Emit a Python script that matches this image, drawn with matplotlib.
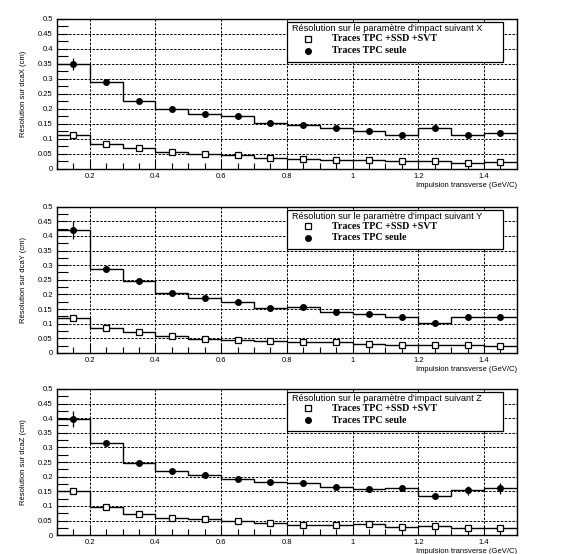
import matplotlib
matplotlib.use("Agg")
import matplotlib.pyplot as plt
from matplotlib.ticker import MultipleLocator

BIN_EDGES = [0.1, 0.2, 0.3, 0.4, 0.5, 0.6, 0.7, 0.8, 0.9, 1.0, 1.1, 1.2, 1.3, 1.4, 1.5]
BIN_CENTERS = [0.15, 0.25, 0.35, 0.45, 0.55, 0.65, 0.75, 0.85, 0.95, 1.05, 1.15, 1.25, 1.35, 1.45]

COMPONENTS = ["X", "Y", "Z"]

# Traces TPC seule
TPC_X = [0.350, 0.289, 0.228, 0.201, 0.184, 0.177, 0.153, 0.148, 0.135, 0.128, 0.114, 0.135, 0.113, 0.120]
TPC_Y = [0.420, 0.287, 0.245, 0.204, 0.187, 0.174, 0.153, 0.157, 0.141, 0.133, 0.124, 0.103, 0.122, 0.123]
TPC_Z = [0.398, 0.315, 0.247, 0.219, 0.204, 0.192, 0.181, 0.179, 0.165, 0.158, 0.161, 0.134, 0.154, 0.160]

TPC_ERR_X = [0.020, 0.006, 0.005, 0.004, 0.004, 0.004, 0.004, 0.005, 0.005, 0.005, 0.006, 0.006, 0.006, 0.010]
TPC_ERR_Y = [0.030, 0.008, 0.005, 0.004, 0.004, 0.004, 0.004, 0.005, 0.005, 0.005, 0.006, 0.006, 0.006, 0.008]
TPC_ERR_Z = [0.027, 0.006, 0.005, 0.004, 0.004, 0.004, 0.004, 0.005, 0.005, 0.005, 0.006, 0.006, 0.015, 0.020]

# Traces TPC + SSD + SVT
SSD_X = [0.113, 0.083, 0.070, 0.055, 0.050, 0.045, 0.036, 0.034, 0.030, 0.031, 0.025, 0.025, 0.020, 0.022]
SSD_Y = [0.119, 0.086, 0.071, 0.057, 0.048, 0.043, 0.040, 0.037, 0.036, 0.032, 0.027, 0.027, 0.028, 0.025]
SSD_Z = [0.152, 0.097, 0.073, 0.059, 0.054, 0.047, 0.041, 0.036, 0.035, 0.038, 0.029, 0.031, 0.026, 0.024]

TPC_DATA = [TPC_X, TPC_Y, TPC_Z]
TPC_ERRS = [TPC_ERR_X, TPC_ERR_Y, TPC_ERR_Z]
SSD_DATA = [SSD_X, SSD_Y, SSD_Z]

plt.rcParams["font.family"] = ["Liberation Sans", "DejaVu Sans"]
SERIF = ["Liberation Serif", "DejaVu Serif"]

fig = plt.figure(figsize=(5.75, 5.54), dpi=100)

# axes boxes in figure fractions [left, bottom, width, height]
PANEL_BOXES = [
    [0.099, 0.695, 0.800, 0.271],
    [0.099, 0.363, 0.800, 0.264],
    [0.099, 0.034, 0.800, 0.264],
]


def draw_panel(ax, comp, tpc, tpc_err, ssd):
    # histogram step lines
    for vals in (tpc, ssd):
        ax.stairs(vals, BIN_EDGES, color="black", linewidth=1.0, baseline=None, zorder=3)

    ax.errorbar(BIN_CENTERS, tpc, yerr=tpc_err, fmt="o", color="black",
                markersize=4.0, elinewidth=0.9, capsize=0, zorder=4)
    ax.plot(BIN_CENTERS, ssd, "s", markerfacecolor="white", markeredgecolor="black",
            markersize=4.8, markeredgewidth=0.9, zorder=4)

    ax.set_xlim(0.1, 1.5)
    ax.set_ylim(0, 0.5)
    ax.xaxis.set_major_locator(MultipleLocator(0.2))
    ax.xaxis.set_minor_locator(MultipleLocator(0.05))
    ax.yaxis.set_major_locator(MultipleLocator(0.05))
    ax.yaxis.set_minor_locator(MultipleLocator(0.025))
    ax.xaxis.set_major_formatter(lambda v, p: "" if abs(v - 0.1) < 1e-6 else f"{v:g}")
    ax.yaxis.set_major_formatter(lambda v, p: f"{v:g}")

    ax.grid(True, which="major", color="black", linestyle=(0, (2.5, 1.5)), linewidth=0.7)
    ax.set_axisbelow(True)

    ax.tick_params(axis="both", which="both", direction="in", labelsize=5.5, pad=3)
    ax.tick_params(axis="y", which="both", length=8, width=0.8, right=False)
    ax.tick_params(axis="x", which="major", length=7, width=0.8, top=False)
    ax.tick_params(axis="x", which="minor", length=4, width=0.8, top=False)
    for spine in ax.spines.values():
        spine.set_linewidth(1.0)

    ax.set_ylabel(f"Résolution sur dca{comp} (cm)", fontsize=5.5, labelpad=8)
    ax.set_xlabel("Impulsion transverse (GeV/C)", fontsize=5.5, labelpad=3)
    ax.xaxis.set_label_coords(1.0, -0.09)
    ax.xaxis.label.set_horizontalalignment("right")

    # legend box drawn by hand, like the ROOT TLegend
    lx0, lx1, ly0, ly1 = 0.50, 0.97, 0.71, 0.98
    ax.add_patch(plt.Rectangle((lx0, ly0), lx1 - lx0, ly1 - ly0, transform=ax.transAxes,
                               facecolor="white", edgecolor="black", linewidth=0.9, zorder=6))
    ax.text(lx0 + 0.010, ly1 - 0.047, f"Résolution sur le paramètre d'impact suivant {comp}",
            transform=ax.transAxes, fontsize=6.6, va="center", ha="left", zorder=7)
    ax.plot([lx0 + 0.045], [ly1 - 0.113], "s", transform=ax.transAxes, markerfacecolor="white",
            markeredgecolor="black", markersize=4.8, markeredgewidth=0.9, zorder=7, clip_on=False)
    ax.text(lx0 + 0.098, ly1 - 0.113, "Traces TPC +SSD +SVT", transform=ax.transAxes,
            fontsize=7.2, family=SERIF, weight="bold", va="center", ha="left", zorder=7)
    ax.plot([lx0 + 0.045], [ly1 - 0.193], "o", transform=ax.transAxes, color="black",
            markersize=4.0, zorder=7, clip_on=False)
    ax.text(lx0 + 0.098, ly1 - 0.193, "Traces TPC seule", transform=ax.transAxes,
            fontsize=7.2, family=SERIF, weight="bold", va="center", ha="left", zorder=7)


for box, comp, tpc, err, ssd in zip(PANEL_BOXES, COMPONENTS, TPC_DATA, TPC_ERRS, SSD_DATA):
    ax = fig.add_axes(box)
    draw_panel(ax, comp, tpc, err, ssd)

fig.savefig("out.png", dpi=100)
